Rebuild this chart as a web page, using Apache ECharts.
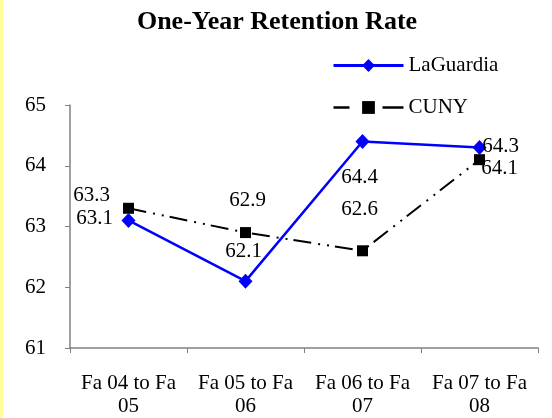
<!DOCTYPE html>
<html>
<head>
<meta charset="utf-8">
<script src="https://cdn.jsdelivr.net/npm/echarts@6/dist/echarts.min.js"></script>
<style>
  html, body { margin: 0; padding: 0; background: #fff; }
  #chart { width: 552px; height: 418px; }
</style>
</head>
<body>
<div id="chart"></div>
<script>
// 数据
const categories = ['Fa 04 to Fa 05', 'Fa 05 to Fa 06', 'Fa 06 to Fa 07', 'Fa 07 to Fa 08'];
const laguardia = [63.1, 62.1, 64.4, 64.3];
const cuny = [63.3, 62.9, 62.6, 64.1];
const yTicks = [61, 62, 63, 64, 65];

// label offsets, as Excel placed them by hand
const lgOffsets = [[-34, -2], [-2, -30], [-3, 36], [21, -1]];
const cunyOffsets = [[-37, -13], [2, -32], [-3, -41], [20, 9]];

const serif = "'Liberation Serif', 'Times New Roman', serif";

function withLabels(values, offsets) {
    return values.map((v, i) => ({
        value: v,
        label: { offset: offsets[i] }
    }));
}

const chart = echarts.init(document.getElementById('chart'));
const option = {
    backgroundColor: '#fff',
    animation: false,
    textStyle: { fontFamily: serif },
    graphic: [{
        type: 'rect',
        shape: { x: 0, y: 0, width: 3, height: 418 },
        style: { fill: '#ffff99' }
    }],
    title: {
        text: 'One-Year Retention Rate',
        left: 272,
        textAlign: 'center',
        top: 4,
        textStyle: { fontFamily: serif, fontSize: 26, fontWeight: 'bold', color: '#000' }
    },
    legend: {
        orient: 'vertical',
        left: 327,
        top: 50,
        itemWidth: 70,
        itemHeight: 16,
        itemGap: 21,
        textStyle: { fontFamily: serif, fontSize: 21, color: '#000' },
        data: [
            { name: 'LaGuardia', lineStyle: { width: 3 } },
            { name: 'CUNY', lineStyle: { width: 2.5, type: [16, 33, 21] } }
        ]
    },
    grid: { left: 70, right: 14, top: 105, bottom: 67 },
    xAxis: {
        type: 'category',
        data: categories,
        boundaryGap: true,
        axisLine: { lineStyle: { color: '#808080', width: 1.5 } },
        axisTick: { show: true, length: 5, lineStyle: { color: '#808080' } },
        axisLabel: {
            color: '#000',
            fontFamily: serif,
            fontSize: 21,
            lineHeight: 23,
            margin: 24,
            interval: 0,
            formatter: v => v.replace(/ (\d+)$/, '\n$1')
        }
    },
    yAxis: {
        type: 'value',
        min: yTicks[0],
        max: yTicks[yTicks.length - 1],
        interval: 1,
        splitLine: { show: false },
        axisLine: { show: true, lineStyle: { color: '#808080', width: 1.5 } },
        axisTick: { show: true, length: 5, lineStyle: { color: '#808080' } },
        axisLabel: { color: '#000', fontFamily: serif, fontSize: 21, margin: 24 }
    },
    series: [
        {
            name: 'LaGuardia',
            type: 'line',
            data: withLabels(laguardia, lgOffsets),
            symbol: 'diamond',
            symbolSize: [14, 15],
            itemStyle: { color: '#0000ff' },
            lineStyle: { color: '#0000ff', width: 2.5 },
            label: {
                show: true,
                position: 'inside',
                align: 'center',
                verticalAlign: 'middle',
                color: '#000',
                fontFamily: serif,
                fontSize: 21
            },
            z: 3
        },
        {
            name: 'CUNY',
            type: 'line',
            data: withLabels(cuny, cunyOffsets),
            symbol: 'rect',
            symbolSize: 11,
            itemStyle: { color: '#000' },
            lineStyle: { color: '#000', width: 2, type: [18, 7, 2, 7, 2, 6] },
            label: {
                show: true,
                position: 'inside',
                align: 'center',
                verticalAlign: 'middle',
                color: '#000',
                fontFamily: serif,
                fontSize: 21
            },
            z: 2
        }
    ]
};
chart.setOption(option);
</script>
</body>
</html>
